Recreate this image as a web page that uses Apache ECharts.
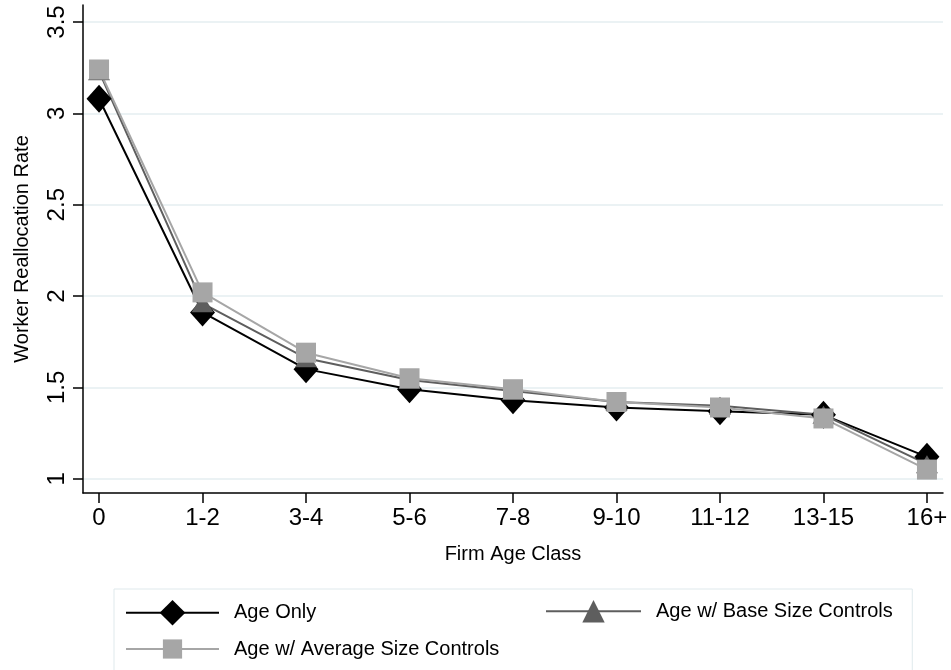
<!DOCTYPE html>
<html><head><meta charset="utf-8">
<script src="https://cdn.jsdelivr.net/npm/echarts@6/dist/echarts.min.js"></script>
<style>html,body{margin:0;padding:0;background:#fff}#c{width:951px;height:670px}</style>
</head><body><div id="c"></div>
<script>
const categories = ['0','1-2','3-4','5-6','7-8','9-10','11-12','13-15','16+'];
const ageOnly  = [3.08, 1.91, 1.60, 1.49, 1.43, 1.39, 1.37, 1.35, 1.12];
const baseSize = [3.23, 1.96, 1.66, 1.54, 1.48, 1.42, 1.40, 1.35, 1.08];
const avgSize  = [3.24, 2.02, 1.69, 1.55, 1.49, 1.42, 1.39, 1.33, 1.05];
const yTicks = [1, 1.5, 2, 2.5, 3, 3.5];
const yTickLabels = ['1', '1.5', '2', '2.5', '3', '3.5'];
const xTicks = categories.map((c, i) => i);
const seriesNames = ['Age Only', 'Age w/ Base Size Controls', 'Age w/ Average Size Controls'];
const FONT = '"Liberation Sans", Arial, Helvetica, sans-serif';

const chart = echarts.init(document.getElementById('c'), null, {renderer: 'canvas'});
const toPairs = arr => arr.map((v, i) => [i, v]);
const legendText = {color: '#000', fontSize: 20, fontFamily: FONT, padding: [0, 0, 0, 10]};

chart.setOption({
  animation: false,
  backgroundColor: '#fff',
  textStyle: {fontFamily: FONT, color: '#000'},
  grid: {left: 83, right: 8, top: 5, bottom: 177, containLabel: false},
  xAxis: {
    type: 'value', min: -0.155, max: 8.155,
    name: 'Firm Age Class', nameLocation: 'middle', nameGap: 51,
    nameTextStyle: {fontSize: 20, color: '#000', fontFamily: FONT},
    axisLine: {show: true, onZero: false, lineStyle: {color: '#000', width: 1.5}},
    axisTick: {show: true, length: 10, customValues: xTicks, lineStyle: {color: '#000', width: 1.5}},
    axisLabel: {customValues: xTicks, margin: 13, fontSize: 24, color: '#000', fontFamily: FONT,
      formatter: v => categories[Math.round(v)]},
    splitLine: {show: false}
  },
  yAxis: {
    type: 'value', min: 0.922, max: 3.593,
    name: 'Worker Reallocation Rate', nameLocation: 'middle', nameGap: 51,
    nameTextStyle: {fontSize: 20, color: '#000', fontFamily: FONT},
    axisLine: {show: true, onZero: false, lineStyle: {color: '#000', width: 1.5}},
    axisTick: {show: true, length: 10, customValues: yTicks, lineStyle: {color: '#000', width: 1.5}},
    axisLabel: {customValues: yTicks, rotate: 90, margin: 14, fontSize: 24, color: '#000', fontFamily: FONT,
      formatter: v => yTickLabels[yTicks.indexOf(v)] !== undefined ? yTickLabels[yTicks.indexOf(v)] : String(v)},
    splitLine: {show: true, lineStyle: {color: '#e4eef0', width: 1.5}}
  },
  legend: [
    {
      data: [seriesNames[0]], left: 114, top: 589, orient: 'horizontal',
      padding: [11, 596, 50, 11], itemWidth: 93, itemHeight: 32,
      borderColor: '#dfe9ec', borderWidth: 1, backgroundColor: '#fff',
      textStyle: legendText, selectedMode: false
    },
    {
      data: [seriesNames[1]], left: 545, top: 600, orient: 'horizontal',
      padding: 0, itemWidth: 95, itemHeight: 28,
      textStyle: legendText, selectedMode: false
    },
    {
      data: [seriesNames[2]], left: 125, top: 639, orient: 'horizontal',
      padding: 0, itemWidth: 93, itemHeight: 24,
      textStyle: legendText, selectedMode: false
    }
  ],
  series: [
    {
      name: seriesNames[0], type: 'line', data: toPairs(ageOnly),
      symbol: 'diamond', symbolSize: [25, 28], clip: false,
      lineStyle: {color: '#000', width: 2}, itemStyle: {color: '#000'}
    },
    {
      name: seriesNames[1], type: 'line', data: toPairs(baseSize),
      symbol: 'triangle', symbolSize: [22, 18], clip: false,
      lineStyle: {color: '#5e5e5e', width: 2}, itemStyle: {color: '#5e5e5e'}
    },
    {
      name: seriesNames[2], type: 'line', data: toPairs(avgSize),
      symbol: 'rect', symbolSize: 20, clip: false,
      lineStyle: {color: '#a6a6a6', width: 2}, itemStyle: {color: '#a6a6a6'}
    }
  ]
});
</script></body></html>
